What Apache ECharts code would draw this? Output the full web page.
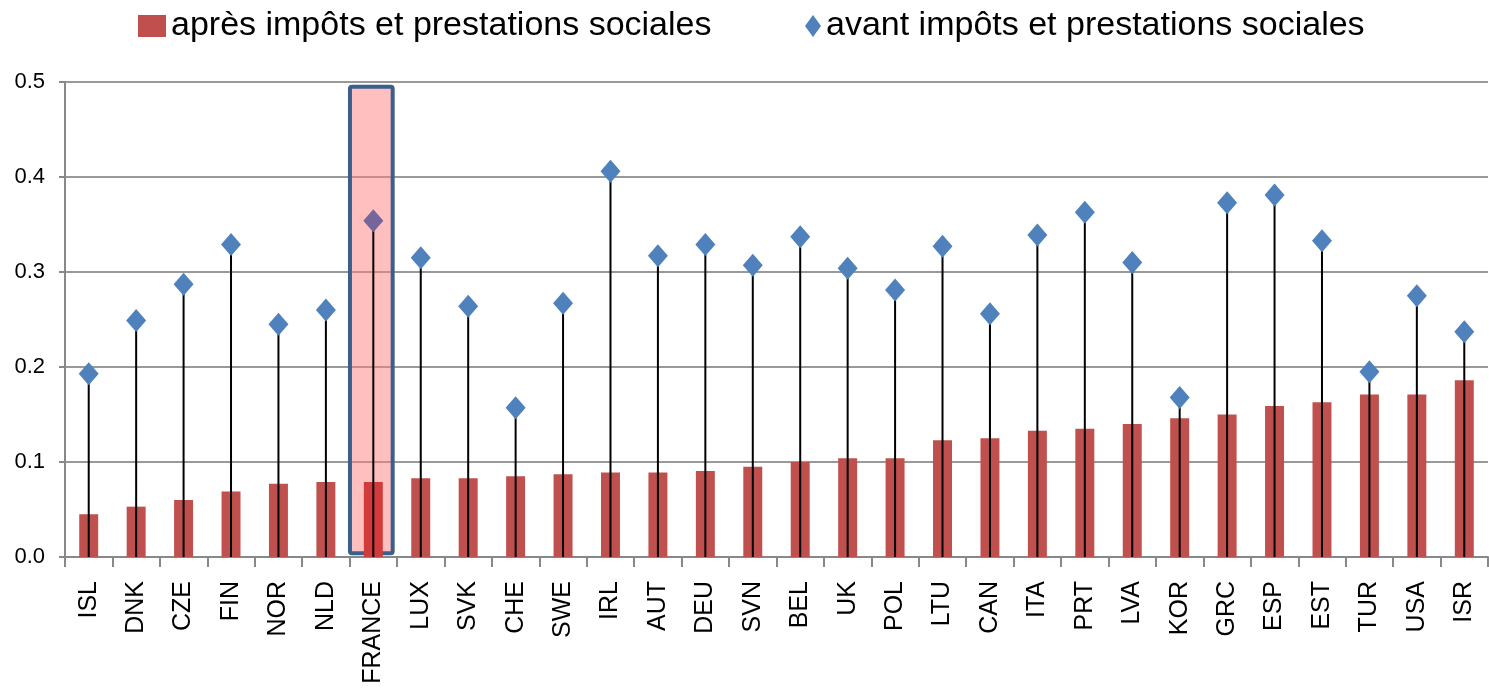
<!DOCTYPE html>
<html>
<head>
<meta charset="utf-8">
<script src="https://cdn.jsdelivr.net/npm/echarts@6/dist/echarts.min.js"></script>
<style>
  html, body { margin: 0; padding: 0; background: #fff; }
  #chart { width: 1489px; height: 692px; }
</style>
</head>
<body>
<div id="chart"></div>
<script>
var countries = ['ISL', 'DNK', 'CZE', 'FIN', 'NOR', 'NLD', 'FRANCE', 'LUX', 'SVK', 'CHE',
  'SWE', 'IRL', 'AUT', 'DEU', 'SVN', 'BEL', 'UK', 'POL', 'LTU', 'CAN',
  'ITA', 'PRT', 'LVA', 'KOR', 'GRC', 'ESP', 'EST', 'TUR', 'USA', 'ISR'];
// après impôts et prestations sociales
var apres = [0.045, 0.053, 0.060, 0.069, 0.077, 0.079, 0.079, 0.083, 0.083, 0.085,
  0.087, 0.089, 0.089, 0.0905, 0.095, 0.100, 0.104, 0.104, 0.123, 0.125,
  0.133, 0.135, 0.140, 0.146, 0.150, 0.159, 0.163, 0.171, 0.171, 0.186];
// avant impôts et prestations sociales
var avant = [0.193, 0.249, 0.287, 0.329, 0.245, 0.260, 0.354, 0.315, 0.264, 0.157,
  0.267, 0.406, 0.317, 0.329, 0.307, 0.337, 0.304, 0.281, 0.327, 0.256,
  0.339, 0.363, 0.310, 0.168, 0.373, 0.381, 0.333, 0.195, 0.275, 0.237];

var highlight = 'FRANCE';
var hIdx = countries.indexOf(highlight);
var font = 'Liberation Sans';
var nomApres = 'après impôts et prestations sociales';
var nomAvant = 'avant impôts et prestations sociales';
var rouge = '#c0504d';
var bleu = '#4f81bd';

var chart = echarts.init(document.getElementById('chart'));
var option = {
  animation: false,
  textStyle: { fontFamily: font },
  legend: [{
    top: 4,
    left: 133,
    itemWidth: 28,
    itemHeight: 22,
    textStyle: { fontSize: 34, color: '#000', fontFamily: font },
    data: [{ name: nomApres, icon: 'rect', itemStyle: { color: rouge } }]
  }, {
    top: 4,
    left: 800,
    itemWidth: 16,
    itemHeight: 22,
    textStyle: { fontSize: 34, color: '#000', fontFamily: font },
    data: [{ name: nomAvant, icon: 'diamond', itemStyle: { color: bleu } }]
  }],
  grid: { left: 65, right: 1, top: 82, bottom: 135, containLabel: false },
  xAxis: [{
    type: 'category',
    data: countries,
    axisLine: { lineStyle: { color: '#888', width: 2 } },
    axisTick: { show: true, length: 10, lineStyle: { color: '#888', width: 2 } },
    axisLabel: { rotate: 90, fontSize: 25, color: '#000', margin: 24, fontFamily: font }
  }, {
    type: 'category',
    data: countries,
    show: false
  }],
  yAxis: {
    type: 'value',
    min: 0,
    max: 0.5,
    interval: 0.1,
    axisLine: { show: true, lineStyle: { color: '#888', width: 2 } },
    axisTick: { show: true, length: 6, lineStyle: { color: '#888', width: 2 } },
    splitLine: { lineStyle: { color: '#999', width: 2 } },
    axisLabel: {
      fontSize: 22, color: '#000', margin: 20, fontFamily: font,
      formatter: function (v) { return v.toFixed(1); }
    }
  },
  series: [{
    // cadre rose autour de la France
    name: 'cadre',
    type: 'custom',
    silent: true,
    z: 1,
    data: [[hIdx, 0.004, 0.495]],
    renderItem: function (params, api) {
      var haut = api.coord([api.value(0), api.value(2)]);
      var bas = api.coord([api.value(0), api.value(1)]);
      var w = api.size([1, 0])[0] * 0.9;
      return {
        type: 'rect',
        shape: { x: haut[0] - w / 2 - 2, y: haut[1], width: w, height: bas[1] - haut[1], r: 2 },
        style: { fill: 'rgba(255, 128, 128, 0.5)', stroke: '#3b5f8d', lineWidth: 4 }
      };
    }
  }, {
    name: nomApres,
    type: 'bar',
    data: apres,
    barWidth: '40%',
    itemStyle: {
      color: function (p) { return p.dataIndex === hIdx ? '#d23b3b' : rouge; }
    },
    z: 2
  }, {
    // tiges verticales de 0 jusqu'à la valeur avant impôts
    name: 'tiges',
    type: 'bar',
    xAxisIndex: 1,
    data: avant,
    barWidth: 2,
    itemStyle: { color: '#000' },
    silent: true,
    z: 3
  }, {
    name: nomAvant,
    type: 'scatter',
    data: avant,
    symbol: 'diamond',
    symbolSize: [20, 23],
    itemStyle: {
      opacity: 1,
      color: function (p) { return p.dataIndex === hIdx ? '#74669a' : bleu; }
    },
    z: 4
  }]
};
chart.setOption(option);
</script>
</body>
</html>
